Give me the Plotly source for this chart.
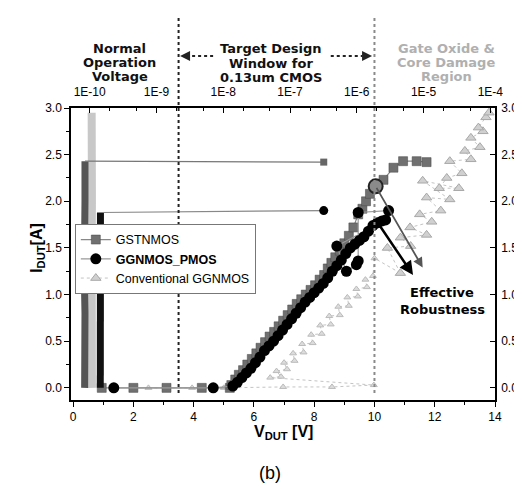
import plotly.graph_objects as go

# ---------------- data ----------------
# GSTNMOS : TLP I-V (bottom axis)
gst_V = [0.95, 2.0, 3.1, 4.27, 5.2, 5.25, 5.38, 5.5, 5.64, 5.78, 5.93, 6.08, 6.22, 6.37, 6.52, 6.67,
         6.82, 6.97, 7.12, 7.27, 7.42, 7.57, 7.72, 7.88, 8.03, 8.18, 8.33, 8.45, 8.57, 8.7, 8.85,
         9.0, 9.15, 9.3, 9.46, 9.6, 9.72, 9.85, 10.04, 10.3, 10.63, 10.95, 11.4, 11.73]
gst_I = [0.0, 0.0, 0.0, 0.0, 0.0, 0.03, 0.09, 0.14, 0.19, 0.25, 0.31, 0.37, 0.43, 0.49, 0.55, 0.6,
         0.66, 0.72, 0.78, 0.84, 0.9, 0.95, 1.0, 1.05, 1.1, 1.16, 1.21, 1.28, 1.34, 1.4, 1.47, 1.55,
         1.63, 1.72, 1.86, 1.92, 2.0, 2.08, 2.16, 2.23, 2.36, 2.43, 2.43, 2.42]
# GSTNMOS : leakage (top log axis) at current levels
gst_leak_I = [0.0, 0.4, 0.8, 1.2, 1.6, 2.0, 2.43, 2.42]
gst_leak = [8.4e-11, 8.6e-11, 8.5e-11, 8.3e-11, 8.6e-11, 8.5e-11, 8.5e-11, 3.2e-7]

# GGNMOS_PMOS
pm_V = [1.35, 4.65, 5.3, 5.45, 5.6, 5.75, 5.9, 6.05, 6.2, 6.35, 6.5, 6.65, 6.8, 6.95, 7.1, 7.25,
        7.4, 7.55, 7.7, 7.85, 8.0, 8.15, 8.3, 8.45, 8.6, 8.75, 8.9, 9.05, 9.2, 9.35, 9.5, 9.65,
        9.8, 9.95, 10.1, 10.25, 10.37, 8.75, 9.07, 9.4, 9.46, 9.46, 10.47]
pm_I = [0.0, 0.0, 0.02, 0.06, 0.11, 0.16, 0.21, 0.27, 0.33, 0.4, 0.45, 0.5, 0.56, 0.62, 0.68, 0.74,
        0.8, 0.86, 0.92, 0.97, 1.02, 1.07, 1.12, 1.18, 1.25, 1.31, 1.37, 1.44, 1.5, 1.54, 1.58, 1.62,
        1.68, 1.74, 1.77, 1.79, 1.8, 1.52, 1.25, 1.32, 1.36, 1.88, 1.9]
pm_leak_I = [0.0, 0.4, 0.8, 1.2, 1.6, 1.88, 1.9]
pm_leak = [1.44e-10, 1.46e-10, 1.45e-10, 1.43e-10, 1.46e-10, 1.45e-10, 3.2e-7]

# Conventional GGNMOS : off-state + snapback band (lower) and high-current band (upper)
cv_lo_V = [2.5, 3.95, 5.0, 6.97, 8.59, 9.98, 6.54, 6.9, 6.75, 7.1, 7.0, 7.35, 7.3, 7.65, 7.6, 7.95,
           7.9, 8.25, 8.2, 8.55, 8.5, 8.85, 8.8, 9.15, 9.1, 9.45, 9.4, 9.75, 9.7, 9.95, 10.0, 10.86]
cv_lo_I = [0.0, 0.0, 0.0, 0.01, 0.01, 0.03, 0.11, 0.12, 0.18, 0.2, 0.27, 0.29, 0.37, 0.38, 0.47, 0.48,
           0.57, 0.58, 0.67, 0.68, 0.77, 0.78, 0.87, 0.88, 0.97, 0.98, 1.06, 1.08, 1.16, 1.2, 1.39, 1.23]
cv_hi_V = [10.86, 10.43, 11.2, 10.86, 11.73, 11.18, 11.9, 11.5, 12.2, 11.73, 12.5, 11.6, 12.8, 12.15,
           12.4, 12.9, 12.5, 13.2, 13.0, 13.5, 13.2, 13.6, 13.45, 13.7, 13.8]
cv_hi_I = [1.23, 1.5, 1.52, 1.61, 1.64, 1.72, 1.78, 1.86, 1.9, 2.04, 2.02, 2.22, 2.14, 2.14, 2.25,
           2.3, 2.43, 2.45, 2.54, 2.58, 2.68, 2.75, 2.79, 2.9, 2.95]
cv_leak_I = [0.0, 0.5, 1.0, 1.5, 2.0, 2.5, 2.95]
cv_leak = [1.08e-10, 1.06e-10, 1.09e-10, 1.07e-10, 1.08e-10, 1.1e-10, 1.07e-10]

# highlighted failure point and "effective robustness" arrows (V, I)
fail_V = [10.04]
fail_I = [2.16]
arrow_gray = [(10.04, 2.16), (11.6, 1.29)]
arrow_black = [(10.11, 1.77), (11.28, 1.21)]

# design-window boundaries (V)
win_lo = 3.5
win_hi = 10.0

top_ticks = [1e-10, 1e-9, 1e-8, 1e-7, 1e-6, 1e-5, 1e-4]
top_ticktext = ["1E-10", "1E-9", "1E-8", "1E-7", "1E-6", "1E-5", "1E-4"]
y_ticks = [0, 0.5, 1, 1.5, 2, 2.5, 3]
y_ticktext = ["0.0", "0.5", "1.0", "1.5", "2.0", "2.5", "3.0"]

FONT = "Liberation Sans, Arial, sans-serif"
BOLD = "DejaVu Sans, sans-serif"

fig = go.Figure()

# ---- leakage bars (top log axis) ----
fig.add_trace(go.Scatter(x=cv_leak, y=cv_leak_I, xaxis="x2", yaxis="y", mode="lines",
                         line=dict(color="#c8c8c8", width=8), showlegend=False, hoverinfo="skip"))


def leak_traces(leak, cur, bar_color, jump_color, sym, msize, mcolor):
    fig.add_trace(go.Scatter(x=leak[:-1], y=cur[:-1], xaxis="x2", yaxis="y", mode="lines",
                             line=dict(color=bar_color, width=7), showlegend=False, hoverinfo="skip"))
    fig.add_trace(go.Scatter(x=leak[-2:], y=cur[-2:], xaxis="x2", yaxis="y", mode="lines",
                             line=dict(color=jump_color, width=1.2), showlegend=False, hoverinfo="skip"))
    fig.add_trace(go.Scatter(x=leak[-1:], y=cur[-1:], xaxis="x2", yaxis="y", mode="markers",
                             marker=dict(symbol=sym, size=msize, color=mcolor), showlegend=False,
                             hoverinfo="skip"))


leak_traces(gst_leak, gst_leak_I, "#555555", "#777777", "square", 7, "#666666")
leak_traces(pm_leak, pm_leak_I, "#111111", "#888888", "circle", 9, "#000000")

# ---- I-V curves ----
fig.add_trace(go.Scatter(x=cv_lo_V, y=cv_lo_I, mode="lines+markers", showlegend=False,
                         line=dict(color="#c4c4c4", width=1, dash="dot"),
                         marker=dict(symbol="triangle-up", size=6, color="#dcdcdc",
                                     line=dict(color="#bbbbbb", width=1)), hoverinfo="skip"))
fig.add_trace(go.Scatter(x=cv_hi_V, y=cv_hi_I, mode="lines+markers", name="Conventional GGNMOS",
                         line=dict(color="#c4c4c4", width=1, dash="dot"),
                         marker=dict(symbol="triangle-up", size=9, color="#d0d0d0",
                                     line=dict(color="#a8a8a8", width=1)),
                         legendrank=3))
fig.add_trace(go.Scatter(x=gst_V, y=gst_I, mode="lines+markers", name="GSTNMOS",
                         line=dict(color="#888888", width=1.2),
                         marker=dict(symbol="square", size=9, color="#707070",
                                     line=dict(color="#444444", width=0.5)),
                         legendrank=1))
fig.add_trace(go.Scatter(x=pm_V, y=pm_I, mode="lines+markers", name="<b>GGNMOS_PMOS</b>",
                         line=dict(color="#999999", width=1.2),
                         marker=dict(symbol="circle", size=11, color="#000000"),
                         legendrank=2))
fig.add_trace(go.Scatter(x=fail_V, y=fail_I, mode="markers", showlegend=False, hoverinfo="skip",
                         marker=dict(symbol="circle", size=14, color="#8a8a8a",
                                     line=dict(color="#222222", width=2))))

# ---- arrows ----
for (p0, p1), col, w in [((arrow_gray[0], arrow_gray[1]), "#555555", 1.8),
                         ((arrow_black[0], arrow_black[1]), "#000000", 2.5)]:
    fig.add_annotation(x=p1[0], y=p1[1], ax=p0[0], ay=p0[1], xref="x", yref="y", axref="x",
                       ayref="y", showarrow=True, arrowhead=2, arrowsize=1.1, arrowwidth=w,
                       arrowcolor=col, text="")

fig.add_annotation(x=12.25, y=1.02, xref="x", yref="y", text="<b>Effective</b>", showarrow=False,
                   font=dict(family=BOLD, size=13, color="#000"))
fig.add_annotation(x=12.25, y=0.84, xref="x", yref="y", text="<b>Robustness</b>", showarrow=False,
                   font=dict(family=BOLD, size=13, color="#000"))

# ---- design window lines ----
fig.add_shape(type="line", xref="x", yref="paper", x0=win_lo, x1=win_lo, y0=0.024, y1=1.31,
              line=dict(color="#222222", width=2, dash="dot"))
fig.add_shape(type="line", xref="x", yref="paper", x0=win_hi, x1=win_hi, y0=0.024, y1=1.31,
              line=dict(color="#8a8a8a", width=2, dash="dot"))

# window arrows at top
arr_y = 1.178
fig.add_shape(type="line", xref="x", yref="paper", x0=3.75, x1=4.65, y0=arr_y, y1=arr_y,
              line=dict(color="#222", width=2, dash="dot"))
fig.add_shape(type="line", xref="x", yref="paper", x0=8.55, x1=9.6, y0=arr_y, y1=arr_y,
              line=dict(color="#222", width=2, dash="dot"))
fig.add_annotation(x=3.55, y=arr_y, xref="x", yref="paper", ax=10, ay=0, axref="pixel",
                   ayref="pixel", showarrow=True, arrowhead=2, arrowsize=1, arrowwidth=2,
                   arrowcolor="#222", text="")
fig.add_annotation(x=9.92, y=arr_y, xref="x", yref="paper", ax=-10, ay=0, axref="pixel",
                   ayref="pixel", showarrow=True, arrowhead=2, arrowsize=1, arrowwidth=2,
                   arrowcolor="#222", text="")


def text_block(xv, lines, ys, color):
    for t, yv in zip(lines, ys):
        fig.add_annotation(x=xv, y=yv, xref="x", yref="paper", text="<b>%s</b>" % t,
                           showarrow=False, font=dict(family=BOLD, size=13, color=color))


text_block(1.55, ["Normal", "Operation", "Voltage"], [1.236, 1.188, 1.140], "#111")
text_block(6.58, ["Target Design", "Window for", "0.13um CMOS"], [1.236, 1.186, 1.136], "#111")
text_block(12.38, ["Gate Oxide &", "Core Damage", "Region"], [1.236, 1.188, 1.140], "#b0b0b0")

# axis titles
fig.add_annotation(x=0.5, y=-0.152, xref="paper", yref="paper",
                   text="<b>V<sub>DUT</sub> [V]</b>", showarrow=False,
                   font=dict(family=FONT, size=16, color="#000"))
fig.add_annotation(x=-0.108, y=0.52, xref="paper", yref="paper", textangle=-90,
                   text="<b>I<sub>DUT</sub>[A]</b>", showarrow=False,
                   font=dict(family=FONT, size=16, color="#000"))
fig.add_annotation(x=0.47, y=-0.29, xref="paper", yref="paper", text="(b)", showarrow=False,
                   font=dict(family=FONT, size=18, color="#000"))

axis_common = dict(showline=True, linecolor="#000", linewidth=1.5, showgrid=False, zeroline=False,
                   tickfont=dict(family=FONT, size=12, color="#000"), tickcolor="#000")

fig.update_layout(
    width=522, height=489,
    margin=dict(l=63, r=25, t=100, b=97),
    paper_bgcolor="white", plot_bgcolor="white",
    showlegend=True,
    legend=dict(x=0.009, y=0.603, xanchor="left", yanchor="top", bgcolor="white",
                bordercolor="#777", borderwidth=1, font=dict(family=FONT, size=12.5, color="#000"),
                tracegroupgap=0, itemwidth=30),
    xaxis=dict(range=[-0.07, 14], tickvals=[0, 2, 4, 6, 8, 10, 12, 14], ticks="outside",
               ticklen=5, minor=dict(tickvals=[1, 3, 5, 7, 9, 11, 13], ticks="outside", ticklen=3,
                                     tickcolor="#000"),
               **axis_common),
    xaxis2=dict(type="log", range=[-10.28, -3.93], overlaying="x", side="top",
                tickvals=top_ticks, ticktext=top_ticktext, ticks="inside", ticklen=5,
                ticklabelstandoff=5,
                minor=dict(ticks="inside", ticklen=3, tickcolor="#000"),
                **axis_common),
    yaxis=dict(range=[-0.13, 3.0], tickvals=y_ticks, ticktext=y_ticktext, ticks="outside",
               ticklen=5, minor=dict(tickvals=[0.25, 0.75, 1.25, 1.75, 2.25, 2.75], ticks="outside",
                                     ticklen=3, tickcolor="#000"),
               **axis_common),
    yaxis2=dict(range=[-0.13, 3.0], overlaying="y", side="right",
                tickvals=y_ticks, ticktext=y_ticktext, ticks="inside",
                ticklen=5, ticklabelstandoff=2, **axis_common),
)
# dummy trace so y2 is drawn
fig.add_trace(go.Scatter(x=[None], y=[None], yaxis="y2", showlegend=False, hoverinfo="skip"))

fig.write_html("out.html")
